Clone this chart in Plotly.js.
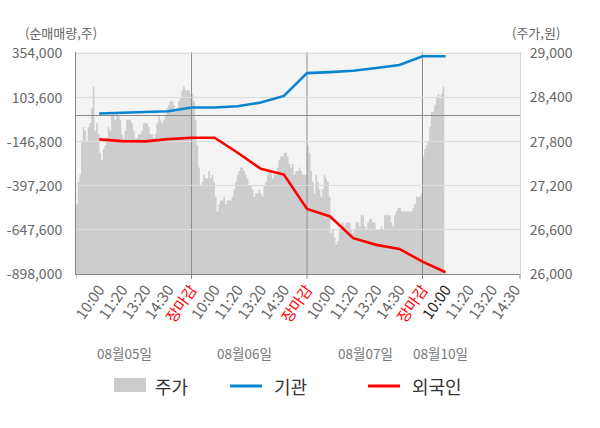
<!DOCTYPE html>
<html><head><meta charset="utf-8">
<script src="https://cdn.plot.ly/plotly-3.0.1.min.js"></script>
<style>html,body{margin:0;padding:0;background:#fff}#chart{width:600px;height:428px}</style>
</head><body><div id="chart"></div>
<script>
// ---- data ----
const days = ['08월05일', '08월06일', '08월07일', '08월10일'];
const sessionTicks = ['10:00', '11:20', '13:20', '14:30', '장마감'];
const volTicks = [-898000, -647600, -397200, -146800, 103600, 354000];
const priceTicks = [26000, 26600, 27200, 27800, 28400, 29000];
const legendNames = ['주가', '기관', '외국인'];

// net-buy sample times (in trading days from 08/05 open)
const flowX = [0.2, 0.4, 0.6, 0.8, 1.0, 1.2, 1.4, 1.6, 1.8, 2.0, 2.2, 2.4, 2.6, 2.8, 3.0, 3.2];
const inst = [12900, 16400, 20300, 26000, 47200, 47200, 54600, 75700, 113300, 242800, 248500, 255900, 271300, 288400, 338100, 338100];
const foreign = [-133700, -143400, -145100, -132000, -124400, -124400, -209500, -300800, -333300, -529000, -571200, -694400, -732600, -755400, -827800, -888300];

// intraday price, uniform samples per day
const price0805 = [26950,27250,27350,27800,28000,27950,27800,28000,28050,28250,
  28550,27950,28050,27900,27650,27550,27700,27750,27850,28000,
  27950,28150,28200,28100,28200,28150,28100,27900,27850,27950,
  28100,28100,28100,28050,27950,27850,27850,27900,27900,27950,
  28050,28050,28050,28000,27900,27900,27850,27900,28050,28150,
  28100,28050,28100,28150,28250,28300,28350,28350,28300,28200,
  28250,28350,28400,28500,28550,28500,28500,28500,28450];
const price0806 = [28450,28350,28100,27750,27450,27200,27250,27350,27300,27300,
  27400,27300,27350,27250,27050,26850,26950,27000,27000,27050,
  26950,27000,27000,27000,27050,27150,27250,27350,27400,27450,
  27450,27400,27350,27300,27200,27200,27150,27050,27100,27100,
  27150,27100,27050,27200,27250,27350,27400,27400,27300,27350,
  27350,27450,27550,27600,27600,27650,27650,27600,27500,27450,
  27500,27350,27400,27400,27450,27400,27350,27350,27350];
const price0807 = [27750,27650,27400,27250,27100,27350,27250,27150,27050,27150,
  27350,27300,27250,27050,26550,26600,26500,26400,26450,26600,
  26650,26700,26650,26700,26700,26700,26600,26550,26600,26700,
  26700,26650,26800,26800,26650,26600,26700,26750,26750,26700,
  26700,26600,26600,26600,26650,26600,26800,26800,26800,26800,
  26700,26650,26800,26850,26900,26900,26850,26850,26850,26850,
  26850,26850,26850,26900,26950,27050,27050,27050,27100];
const price0810 = [27600,27700,27750,27800,28000,28200,28200,28300,28400,28450,28400,28450,28550,28600];

// ---- build ----
const SAMPLES_PER_DAY = 69;
const priceDays = [price0805, price0806, price0807, price0810];
const priceX = [], priceY = [];
priceDays.forEach((arr, d) => arr.forEach((v, i) => { priceX.push(d + i / SAMPLES_PER_DAY); priceY.push(v); }));

const XMAX = 3.844;
const tickVals = [], tickText = [];
for (let d = 0; d < 4; d++) {
  sessionTicks.forEach((t, k) => {
    const v = Math.round((d + (k + 1) * 0.2) * 10) / 10;
    if (v > XMAX) return;
    let txt = t;
    if (t === '장마감') txt = '<span style="color:#ff0000">' + t + '</span>';
    else if (d === 3 && k === 0) txt = '<span style="color:#222222">' + t + '</span>';
    tickVals.push(v); tickText.push(txt);
  });
}
const fmt = v => (v < 0 ? '-' : '') + Math.abs(v).toLocaleString('en-US');

const FONT = 'Noto Sans CJK KR, Noto Sans, sans-serif';
const traces = [
  { x: priceX, y: priceY, xaxis: 'x', yaxis: 'y', type: 'scatter', mode: 'lines',
    name: legendNames[0], line: { width: 0, shape: 'hv', color: '#cccccc' },
    fill: 'tozeroy', fillcolor: '#cdcdcd', hoverinfo: 'skip' },
  { x: flowX, y: inst, xaxis: 'x2', yaxis: 'y3', type: 'scatter', mode: 'lines',
    name: legendNames[1], line: { width: 2.6, color: '#0a84cf' }, hoverinfo: 'skip' },
  { x: flowX, y: foreign, xaxis: 'x2', yaxis: 'y3', type: 'scatter', mode: 'lines',
    name: legendNames[2], line: { width: 2.6, color: '#ff0000' }, hoverinfo: 'skip' }
];

const VOL_TOP = 362500, PRICE_TOP = 29020;
const shapes = [
  { type: 'rect', xref: 'paper', yref: 'paper', x0: 0, x1: 1, y0: 0, y1: 1, layer: 'below',
    fillcolor: '#f4f4f4', line: { width: 0 } }
];
[1, 2, 3].forEach(d => {
  shapes.push({ type: 'line', xref: 'x2', yref: 'y3', x0: d, x1: d, y0: -898000, y1: VOL_TOP,
    layer: 'below', line: { color: '#8c8c8c', width: 1 } });
});
[0, 1, 2, 3].forEach(d => {
  shapes.push({ type: 'line', xref: 'x2', yref: 'paper', x0: d, x1: d, y0: 0, y1: -0.022,
    line: { color: '#888888', width: 1 } });
});
shapes.push({ type: 'line', xref: 'paper', yref: 'paper', x0: 1, x1: 1, y0: 0, y1: -0.022,
  line: { color: '#888888', width: 1 } });
// legend symbols
shapes.push({ type: 'rect', xref: 'paper', yref: 'paper', x0: 0.0856, x1: 0.1577, y0: -0.468, y1: -0.532,
  fillcolor: '#cccccc', line: { width: 0 } });
shapes.push({ type: 'line', xref: 'paper', yref: 'paper', x0: 0.3468, x1: 0.4189, y0: -0.5045, y1: -0.5045,
  line: { color: '#0a84cf', width: 3 } });
shapes.push({ type: 'line', xref: 'paper', yref: 'paper', x0: 0.6577, x1: 0.7297, y0: -0.5045, y1: -0.5045,
  line: { color: '#ff0000', width: 3 } });

const dayLabelX = [0.42, 1.46, 2.51, 3.16];
const annotations = [
  { xref: 'paper', yref: 'paper', x: -0.034, y: 1.0856, text: '(순매매량,주)', showarrow: false,
    xanchor: 'center', yanchor: 'middle', font: { family: FONT, size: 13, color: '#666666' } },
  { xref: 'paper', yref: 'paper', x: 1.036, y: 1.0856, text: '(주가,원)', showarrow: false,
    xanchor: 'center', yanchor: 'middle', font: { family: FONT, size: 13, color: '#666666' } }
];
days.forEach((t, i) => annotations.push({ xref: 'x2', yref: 'paper', x: dayLabelX[i], y: -0.356, text: t,
  showarrow: false, xanchor: 'center', yanchor: 'middle', font: { family: FONT, size: 13.5, color: '#777777' } }));
const legX = [0.1734, 0.4414, 0.7523];
legendNames.forEach((t, i) => annotations.push({ xref: 'paper', yref: 'paper', x: legX[i], y: -0.5045, text: t,
  showarrow: false, xanchor: 'left', yanchor: 'middle', font: { family: FONT, size: 18, color: '#333333' } }));

const layout = {
  width: 600, height: 428,
  margin: { l: 76, r: 80, t: 52, b: 154 },
  paper_bgcolor: '#ffffff', plot_bgcolor: 'rgba(0,0,0,0)',
  showlegend: false,
  font: { family: FONT, color: '#666666', size: 14 },
  xaxis: { domain: [0, 1], range: [0, XMAX], visible: false, fixedrange: true },
  yaxis: { anchor: 'x', side: 'right', range: [26000, PRICE_TOP], tickmode: 'array',
    tickvals: priceTicks, ticktext: priceTicks.map(fmt), showgrid: false, zeroline: false,
    showline: true, linecolor: '#d4d4d4', linewidth: 1, ticks: '', ticklabelstandoff: 6,
    tickfont: { family: FONT, size: 14, color: '#666666' }, fixedrange: true },
  xaxis2: { anchor: 'y3', domain: [0, 1], range: [0, XMAX], tickmode: 'array', tickvals: tickVals,
    ticktext: tickText, tickangle: -55, showgrid: false, zeroline: false, showline: true,
    linecolor: '#888888', linewidth: 1, ticks: '', tickfont: { family: FONT, size: 15, color: '#666666' },
    fixedrange: true },
  yaxis3: { anchor: 'x2', domain: [0, 1], side: 'left', range: [-898000, VOL_TOP], tickmode: 'array',
    tickvals: volTicks, ticktext: volTicks.map(fmt), showgrid: true, gridcolor: '#dcdcdc', gridwidth: 1,
    zeroline: true, zerolinecolor: '#8a8a8a', zerolinewidth: 1, showline: true, linecolor: '#888888',
    linewidth: 1, ticks: '', ticklabelstandoff: 10, tickfont: { family: FONT, size: 14, color: '#666666' },
    fixedrange: true },
  shapes: shapes,
  annotations: annotations
};

Plotly.newPlot('chart', traces, layout, { displayModeBar: false, staticPlot: true });
</script>
</body></html>
